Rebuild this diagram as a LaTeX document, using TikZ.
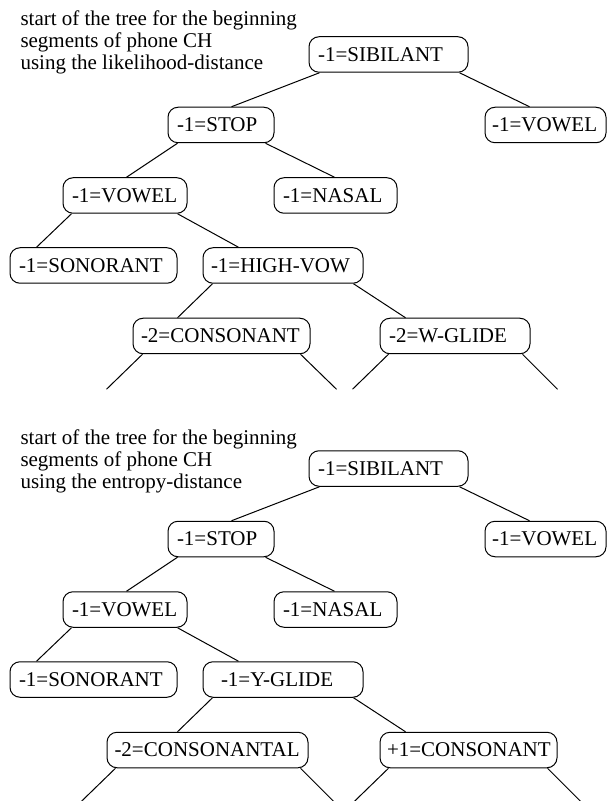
\documentclass[tikz,border=0pt]{standalone}
\usepackage{fontspec}
\setmainfont{Liberation Serif}
\usetikzlibrary{calc}
\exhyphenpenalty=10000

\begin{document}
\begin{tikzpicture}[x=0.5pt, y=-0.5pt, line width=0.5pt, font=\fontsize{10.5}{10.85}\selectfont]
        \tikzset{feature node/.style={draw, rounded corners=5pt, minimum height=17.75pt, inner ysep=0pt, inner xsep=4.5pt, align=left, text width=#1}}
        \tikzset{caption text/.style={anchor=north west, inner sep=0pt, align=left}}
        \useasboundingbox (0,0) rectangle (607,801);

        % Captions
        \node (caption1) [caption text] at (20,10.7) {start of the tree for the beginning\\segments of phone CH\\using the likelihood-distance};
        \node (caption2) [caption text] at (20,429.7) {start of the tree for the beginning\\segments of phone CH\\using the entropy-distance};

        % Nodes (likelihood tree)
        \node (sib1) [feature node=70.5pt] at (388.5,54.5) {-1=SIBILANT};
        \node (stop1) [feature node=44pt] at (221,125) {-1=STOP};
        \node (vowel_right1) [feature node=53.5pt, inner xsep=3.5pt] at (545.5,125) {-1=VOWEL};
        \node (vowel1) [feature node=53pt] at (125,195.5) {-1=VOWEL};
        \node (nasal1) [feature node=52.5pt] at (335.5,195.5) {-1=NASAL};
        \node (sonorant1) [feature node=74.5pt] at (93.5,265.5) {-1=SONORANT};
        \node (high_vow1) [feature node=72pt, inner xsep=4pt] at (283,265.5) {-1=HIGH-VOW};
        \node (consonant1) [feature node=80.5pt, inner xsep=4pt] at (221.5,336) {-2=CONSONANT};
        \node (w_glide1) [feature node=66pt] at (455,336) {-2=W-GLIDE};

        % Nodes (entropy tree)
        \node (sib2) [feature node=70.5pt] at (388.5,468.5) {-1=SIBILANT};
        \node (stop2) [feature node=44pt] at (221,539) {-1=STOP};
        \node (vowel_right2) [feature node=53.5pt, inner xsep=3.5pt] at (545.5,539) {-1=VOWEL};
        \node (vowel2) [feature node=53pt] at (125,609.5) {-1=VOWEL};
        \node (nasal2) [feature node=52.5pt] at (335.5,609.5) {-1=NASAL};
        \node (sonorant2) [feature node=74.5pt] at (93.5,679.5) {-1=SONORANT};
        \node (y_glide2) [feature node=71pt] at (283,679.5) {\hspace*{4.5pt}-1=Y-GLIDE};
        \node (consonantal2) [feature node=93pt, inner xsep=3.75pt] at (207.5,750) {-2=CONSONANTAL};
        \node (plus_consonant2) [feature node=81.5pt, inner xsep=3.5pt] at (468.5,750) {+1=CONSONANT};

        % Open branch ends
        \coordinate (consonant1_l) at ($(consonant1.south west)+(-26,35)$);
        \coordinate (consonant1_r) at ($(consonant1.south east)+(26,35)$);
        \coordinate (w_glide1_l) at ($(w_glide1.south west)+(-27,35)$);
        \coordinate (w_glide1_r) at ($(w_glide1.south east)+(27,35)$);
        \coordinate (consonantal2_l) at ($(consonantal2.south west)+(-25,33)$);
        \coordinate (consonantal2_r) at ($(consonantal2.south east)+(25,33)$);
        \coordinate (plus_consonant2_l) at ($(plus_consonant2.south west)+(-25,33)$);
        \coordinate (plus_consonant2_r) at ($(plus_consonant2.south east)+(23,33)$);

        % Lines (likelihood tree)
        \draw ($(sib1.south west)+(11,0)$) -- ($(stop1.north west)+(64,0)$);
        \draw ($(sib1.south east)+(-9,0)$) -- ($(vowel_right1.north west)+(45,0)$);
        \draw ($(stop1.south west)+(10,0)$) -- ($(vowel1.north west)+(64,0)$);
        \draw ($(stop1.south east)+(-9,0)$) -- ($(nasal1.north west)+(61,0)$);
        \draw ($(vowel1.south west)+(9,0)$) -- ($(sonorant1.north west)+(27,0)$);
        \draw ($(vowel1.south east)+(-10,0)$) -- ($(high_vow1.north west)+(36,0)$);
        \draw ($(high_vow1.south west)+(10,0)$) -- ($(consonant1.north west)+(45,0)$);
        \draw ($(high_vow1.south east)+(-10,0)$) -- ($(w_glide1.north west)+(26,0)$);
        \draw ($(consonant1.south west)+(10,0)$) -- (consonant1_l);
        \draw ($(consonant1.south east)+(-10,0)$) -- (consonant1_r);
        \draw ($(w_glide1.south west)+(9,0)$) -- (w_glide1_l);
        \draw ($(w_glide1.south east)+(-8,0)$) -- (w_glide1_r);

        % Lines (entropy tree)
        \draw ($(sib2.south west)+(11,0)$) -- ($(stop2.north west)+(64,0)$);
        \draw ($(sib2.south east)+(-9,0)$) -- ($(vowel_right2.north west)+(45,0)$);
        \draw ($(stop2.south west)+(10,0)$) -- ($(vowel2.north west)+(64,0)$);
        \draw ($(stop2.south east)+(-9,0)$) -- ($(nasal2.north west)+(61,0)$);
        \draw ($(vowel2.south west)+(9,0)$) -- ($(sonorant2.north west)+(27,0)$);
        \draw ($(vowel2.south east)+(-10,0)$) -- ($(y_glide2.north west)+(36,0)$);
        \draw ($(y_glide2.south west)+(10,0)$) -- ($(consonantal2.north west)+(71,0)$);
        \draw ($(y_glide2.south east)+(-10,0)$) -- ($(plus_consonant2.north west)+(26,0)$);
        \draw ($(consonantal2.south west)+(9,0)$) -- (consonantal2_l);
        \draw ($(consonantal2.south east)+(-8,0)$) -- (consonantal2_r);
        \draw ($(plus_consonant2.south west)+(9,0)$) -- (plus_consonant2_l);
        \draw ($(plus_consonant2.south east)+(-10,0)$) -- (plus_consonant2_r);
\end{tikzpicture}
\end{document}
